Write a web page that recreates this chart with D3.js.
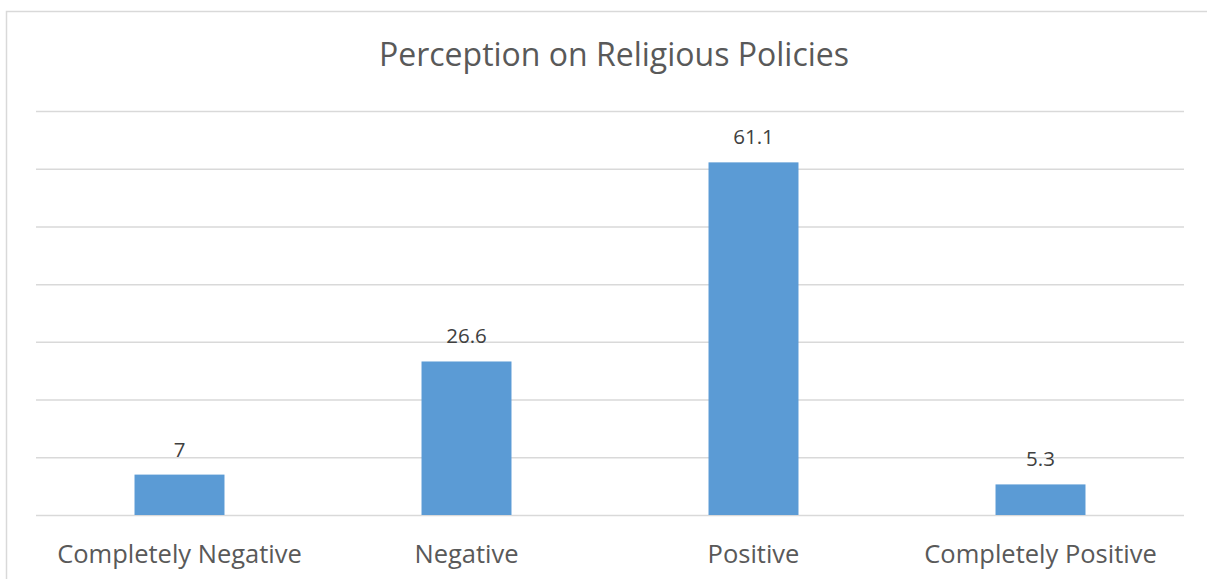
<!DOCTYPE html>
<html>
<head>
<meta charset="utf-8">
<script src="https://cdn.jsdelivr.net/npm/d3@7"></script>
<style>
  body { margin: 0; background: #fff; }
  svg { display: block; font-family: 'Open Sans', sans-serif; }
</style>
</head>
<body>
<div class="container"></div>
<script>
const categories = ['Completely Negative', 'Negative', 'Positive', 'Completely Positive']
const values = [7, 26.6, 61.1, 5.3]
const labels = ['7', '26.6', '61.1', '5.3']
const yTicks = [0, 10, 20, 30, 40, 50, 60, 70]
const title = 'Perception on Religious Policies'

const width = 1207
const height = 579

const svg = d3.select('.container')
  .append('svg')
  .attr('width', width)
  .attr('height', height)

// chart frame
svg.append('rect')
  .attr('x', 6.5)
  .attr('y', 11.5)
  .attr('width', width + 10)
  .attr('height', height + 10)
  .attr('fill', 'none')
  .attr('stroke', '#d9d9d9')
  .attr('stroke-width', 1.5)

const xScale = d3.scaleBand()
  .domain(categories)
  .range([36, 1184])
  .paddingInner(0)

const yScale = d3.scaleLinear()
  .domain([0, 70])
  .range([515, 111])

// gridlines
svg.append('g')
  .attr('transform', 'translate(36,0)')
  .call(d3.axisLeft(yScale).tickValues(yTicks).tickSize(-1148).tickFormat(''))
  .call(g => g.select('.domain').remove())
  .selectAll('line')
  .attr('stroke', '#d9d9d9')
  .attr('stroke-width', 1.5)

const barW = xScale.bandwidth() / 3.19
const data = categories.map((c, i) => ({ cat: c, val: values[i], label: labels[i] }))

svg.append('g')
  .selectAll('rect')
  .data(data)
  .enter()
  .append('rect')
  .attr('x', (d) => xScale(d.cat) + xScale.bandwidth() / 2 - barW / 2)
  .attr('y', (d) => yScale(d.val))
  .attr('width', barW)
  .attr('height', (d) => yScale(0) - yScale(d.val))
  .attr('fill', '#5b9bd5')

svg.append('g')
  .selectAll('text')
  .data(data)
  .enter()
  .append('text')
  .attr('x', (d) => xScale(d.cat) + xScale.bandwidth() / 2)
  .attr('y', (d) => yScale(d.val) - 18)
  .attr('text-anchor', 'middle')
  .attr('font-size', '20.5px')
  .attr('fill', '#404040')
  .text((d) => d.label)

// category axis labels
svg.append('g')
  .attr('transform', 'translate(0,515)')
  .call(d3.axisBottom(xScale).tickSize(0).tickPadding(0))
  .call(g => g.select('.domain').remove())
  .selectAll('text')
  .attr('y', 48)
  .attr('dy', null)
  .attr('font-family', "'Open Sans', sans-serif")
  .attr('font-size', '25.5px')
  .attr('fill', '#595959')

svg.append('text')
  .attr('x', 614)
  .attr('y', 66)
  .attr('text-anchor', 'middle')
  .attr('font-size', '32px')
  .attr('fill', '#595959')
  .text(title)
</script>
</body>
</html>
